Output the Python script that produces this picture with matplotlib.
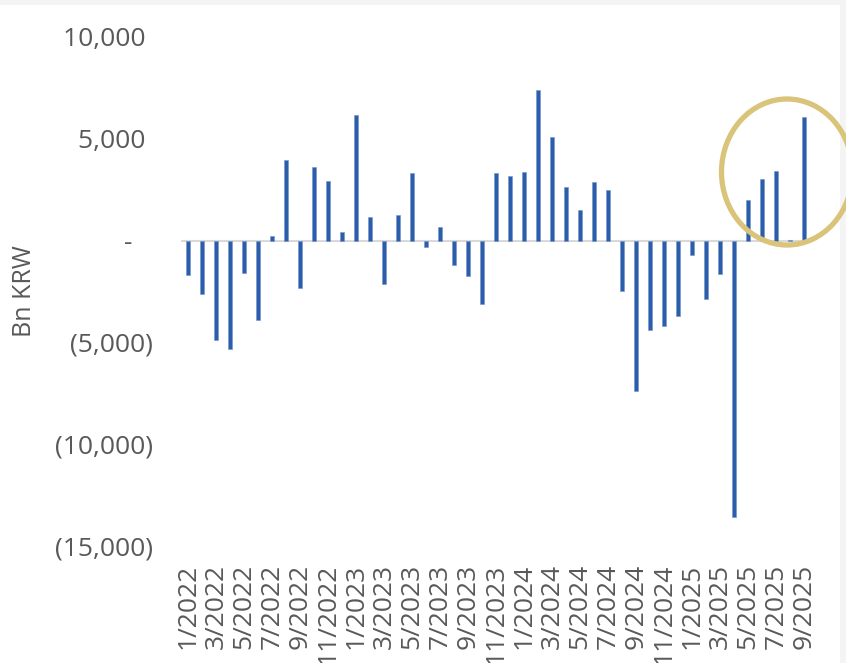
import matplotlib
matplotlib.use("Agg")
import matplotlib.pyplot as plt
from matplotlib.patches import Ellipse, Rectangle
import numpy as np

plt.rcParams['font.family'] = ['Open Sans', 'DejaVu Sans']

months = [f"{m}/{y}" for y in range(2022, 2026) for m in range(1, 13)][:45]
values = [
    -1700, -2600, -4900, -5300, -1600, -3900, 250, 3950, -2350, 3600, 2950, 400,
    6150, 1150, -2150, 1250, 3300, -300, 650, -1200, -1750, -3100, 3300, 3150,
    3350, 7400, 5100, 2650, 1500, 2900, 2500, -2500, -7400, -4400, -4200, -3700,
    -700, -2850, -1650, -13600, 2000, 3050, 3400, 50, 6050,
]
yticks = [10000, 5000, 0, -5000, -10000, -15000]
ytick_labels = ["10,000 ", "5,000 ", "-   ", "(5,000)", "(10,000)", "(15,000)"]

W, H = 846, 663
fig = plt.figure(figsize=(W / 100, H / 100), dpi=100)
fig.patch.set_facecolor('#F4F4F4')
fig.patches.append(Rectangle((0, 0), 840 / W, 1 - 5 / H, transform=fig.transFigure,
                             facecolor='white', edgecolor='none', zorder=-10))

ax = fig.add_axes([181 / W, 1 - 546 / H, 630 / W, 509 / H])
ax.set_facecolor('none')
x = np.arange(len(values))
ax.bar(x, values, width=0.3, color='#2B5DAA', edgecolor='#7095CC', linewidth=0.4, zorder=3)
ax.axhline(0, color='#D9D9D9', linewidth=1.5, zorder=2)
ax.set_xlim(-0.5, len(values) - 0.5)
ax.set_ylim(-15000, 10000)
for s in ax.spines.values():
    s.set_visible(False)

ax.set_yticks(yticks)
ax.set_yticklabels(ytick_labels)
ax.set_xticks(x[::2])
ax.set_xticklabels(months[::2], rotation=90)
ax.tick_params(axis='both', length=0, colors='#595959', labelsize=19)
ax.tick_params(axis='y', pad=20.5)
ax.tick_params(axis='x', pad=13)
ax.set_ylabel("Bn KRW", fontsize=18, color='#595959')
ax.yaxis.set_label_coords(-0.2286, 0.5)

ell = Ellipse((787 / W, 1 - 172 / H), 131 / W, 146 / H, transform=fig.transFigure,
              facecolor='none', edgecolor='#D9C47A', linewidth=3.8, zorder=5)
fig.patches.append(ell)

fig.savefig("out.png", dpi=100, facecolor=fig.get_facecolor())
